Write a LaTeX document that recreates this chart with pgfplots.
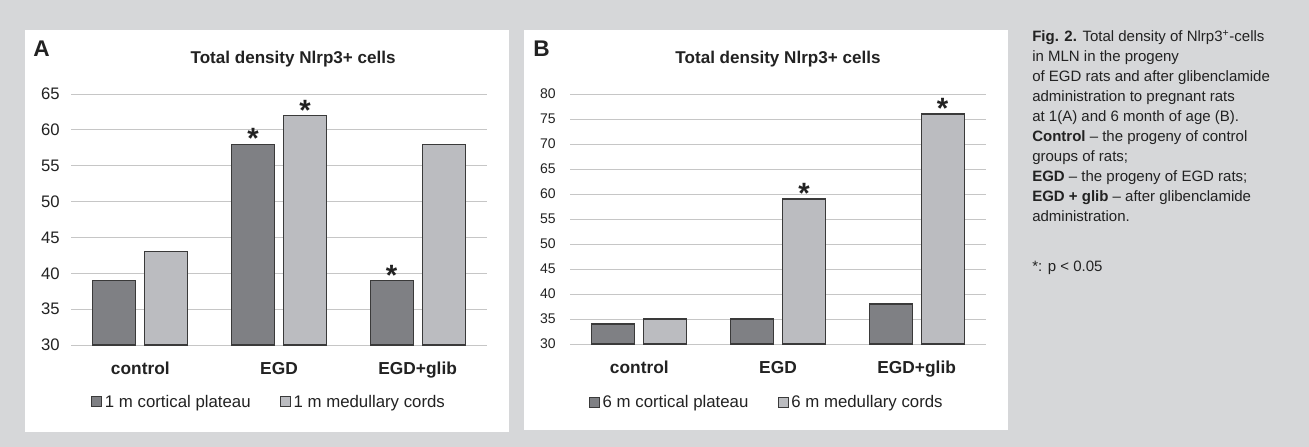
\documentclass[border=0pt]{standalone}
\usepackage{pgfplots}
\pgfplotsset{compat=1.18}
\usepackage{fontspec}
\setmainfont{Liberation Sans}
\definecolor{bg}{HTML}{D6D7D9}
\definecolor{darkbar}{HTML}{7F8084}
\definecolor{lightbar}{HTML}{BBBCC0}
\definecolor{edge}{HTML}{3A3A3A}
\definecolor{gridc}{HTML}{C6C6C6}
\definecolor{txt}{HTML}{222222}

\pgfplotsset{
  panel/.style={
    scale only axis, width=312bp,
    ybar, bar width=32.25bp,
    xmin=-0.5, xmax=2.5,
    xtick={0,1,2}, xticklabels={control,EGD,EGD+glib},
    x tick label style={font=\fontsize{13bp}{13bp}\selectfont\bfseries, text=txt, anchor=base, inner sep=0pt, yshift=-21.8bp},
    y tick label style={text=txt, anchor=east, inner sep=0pt},
    axis line style={draw=none},
    major tick length=0pt,
    ymajorgrids, grid style={gridc, line width=0.75bp},
    /pgf/number format/assume math mode=true,
    legend columns=2,
    legend image code/.code={\draw[##1, line width=0.75bp] (0bp,-3.75bp) rectangle (7.5bp,3.75bp);},
    legend style={draw=none, fill=none, text=txt,
      font=\fontsize{12.6bp}{12.6bp}\selectfont,
      /tikz/every even column/.append style={column sep=20bp}},
    every axis title/.style={font=\fontsize{12.8bp}{12.8bp}\selectfont\bfseries, text=txt, anchor=center},
  },
  dk/.style={fill=darkbar, draw=edge, line width=0.9bp, bar shift=-19.5bp},
  lt/.style={fill=lightbar, draw=edge, line width=0.9bp, bar shift=19.5bp},
}
\tikzset{
  sigstar/.style={font=\fontsize{22bp}{22bp}\selectfont\bfseries, text=txt, anchor=base, inner sep=0pt, yshift=-3.5bp},
}

\begin{document}
\begin{tikzpicture}
\path[use as bounding box] (0,0) rectangle (981.75bp,-335.25bp);
\fill[bg] (0,0) rectangle (981.75bp,-335.25bp);
\begin{scope}[x=0.75bp,y=-0.75bp]
\fill[white] (25,30) rectangle (509,432);
\fill[white] (524,30) rectangle (1008,430);
\node[anchor=base west, inner sep=0pt, text=txt, font=\fontsize{17bp}{17bp}\selectfont\bfseries] at (33,56) {A};
\node[anchor=base west, inner sep=0pt, text=txt, font=\fontsize{17bp}{17bp}\selectfont\bfseries] at (533,56) {B};
\node[anchor=north west, inner sep=0pt, align=left, text=txt, font=\fontsize{11.25bp}{15bp}\selectfont] at (1032,30) {%
\textbf{Fig. 2.} Total density of Nlrp3\textsuperscript{+}-cells\\
in MLN in the progeny\\
of EGD rats and after glibenclamide\\
administration to pregnant rats\\
at 1(A) and 6 month of age (B).\\
\textbf{Control} – the progeny of control\\
groups of rats;\\
\textbf{EGD} – the progeny of EGD rats;\\
\textbf{EGD + glib} – after glibenclamide\\
administration.\\[22.5bp]
*: p < 0.05};
\end{scope}

% Panel A
\begin{axis}[panel,
  at={(71*0.75bp,-345*0.75bp)}, anchor=south west,
  height=188.25bp, ymin=30, ymax=65, ytick={30,35,...,65},
  y tick label style={font=\fontsize{12.5bp}{12.5bp}\selectfont, xshift=-8.25bp},
  title={Total density Nlrp3+ cells},
  title style={at={(0.534,1)}, yshift=26.5bp},
  legend style={at={(0.477,-0.227)}, anchor=center},
]
\addplot[dk] coordinates {(0,39) (1,58) (2,39)};
\addlegendentry{1 m cortical plateau}
\addplot[lt] coordinates {(0,43) (1,62) (2,58)};
\addlegendentry{1 m medullary cords}
\node[sigstar] at (axis cs:0.8125,58) {*};
\node[sigstar] at (axis cs:1.1875,62) {*};
\node[sigstar] at (axis cs:1.8125,39) {*};
\end{axis}

% Panel B
\begin{axis}[panel,
  at={(570*0.75bp,-344*0.75bp)}, anchor=south west,
  height=187.5bp, ymin=30, ymax=80, ytick={30,35,...,80},
  y tick label style={font=\fontsize{10.5bp}{10.5bp}\selectfont, xshift=-10.5bp},
  title={Total density Nlrp3+ cells},
  title style={at={(0.5,1)}, yshift=26.5bp},
  legend style={at={(0.474,-0.232)}, anchor=center},
]
\addplot[dk] coordinates {(0,34) (1,35) (2,38)};
\addlegendentry{6 m cortical plateau}
\addplot[lt] coordinates {(0,35) (1,59) (2,76)};
\addlegendentry{6 m medullary cords}
\node[sigstar] at (axis cs:1.1875,59) {*};
\node[sigstar] at (axis cs:2.1875,76) {*};
\end{axis}
\end{tikzpicture}
\end{document}
